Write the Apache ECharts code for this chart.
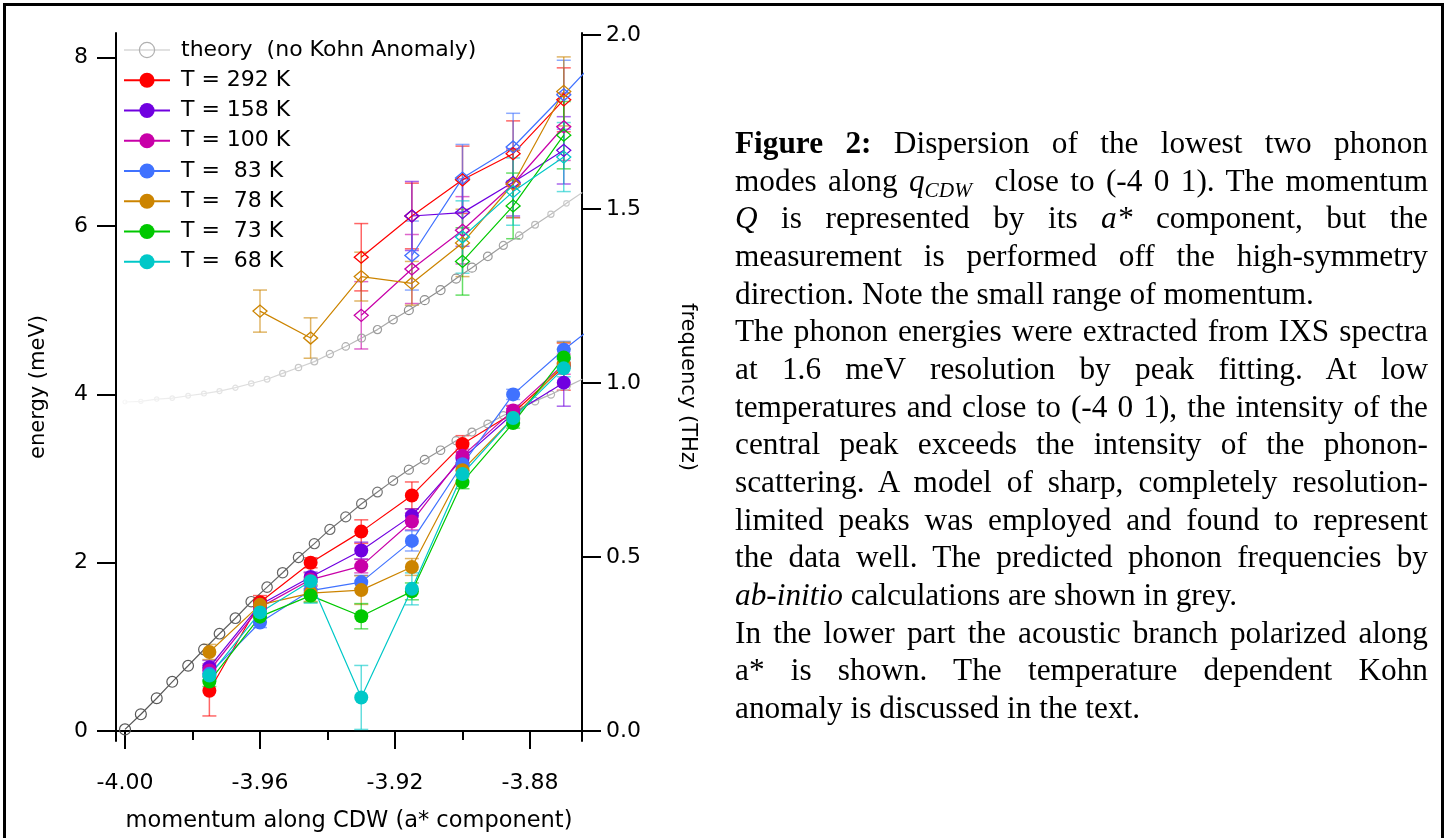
<!DOCTYPE html>
<html>
<head>
<meta charset="utf-8">
<script src="https://cdn.jsdelivr.net/npm/echarts@6/dist/echarts.min.js"></script>
<style>
html, body { margin: 0; padding: 0; background: #fff; }
#wrap { position: relative; width: 1452px; height: 838px; overflow: hidden; }
#frame { position: absolute; left: 3px; top: 3px; width: 1435px; height: 900px; border: 3px solid #000; }
#echart { position: absolute; left: 0; top: 0; width: 1452px; height: 838px; }
#caption { position: absolute; left: 735px; top: 124px; width: 693px;
  font-family: "Liberation Serif", "Times New Roman", serif; font-size: 31.3px; line-height: 37.67px; color: #000; }
#caption div { text-align: justify; text-align-last: justify; }
#caption div.last { text-align-last: left; }
#caption sub { font-size: 68%; line-height: 0; vertical-align: -0.28em; }
</style>
</head>
<body>
<div id="wrap">
  <div id="frame"></div>
  <div id="echart"></div>
  <div id="caption">
    <div><b>Figure 2:</b> Dispersion of the lowest two phonon</div>
    <div>modes along <i>q<sub>CDW</sub></i>&nbsp; close to (-4 0 1). The momentum</div>
    <div><i>Q</i> is represented by its <i>a*</i> component, but the</div>
    <div>measurement is performed off the high-symmetry</div>
    <div class="last">direction. Note the small range of momentum.</div>
    <div>The phonon energies were extracted from IXS spectra</div>
    <div>at 1.6 meV resolution by peak fitting. At low</div>
    <div>temperatures and close to (-4 0 1), the intensity of the</div>
    <div>central peak exceeds the intensity of the phonon-</div>
    <div>scattering. A model of sharp, completely resolution-</div>
    <div>limited peaks was employed and found to represent</div>
    <div>the data well. The predicted phonon frequencies by</div>
    <div class="last"><i>ab-initio</i> calculations are shown in grey.</div>
    <div>In the lower part the acoustic branch polarized along</div>
    <div>a* is shown. The temperature dependent Kohn</div>
    <div class="last">anomaly is discussed in the text.</div>
  </div>
</div>
<script>
// momentum positions of the measured points (a* component)
var xs = [-3.975, -3.96, -3.945, -3.93, -3.915, -3.90, -3.885, -3.87, -3.855];
var temps = ['T = 292 K', 'T = 158 K', 'T = 100 K', 'T =  83 K', 'T =  78 K', 'T =  73 K', 'T =  68 K'];
var theoryName = 'theory  (no Kohn Anomaly)';

// acoustic branch (filled circles), meV
var low292 = [0.48, 1.53, 2.00, 2.37, 2.80, 3.41, 3.78, 4.33, null];
var low158 = [0.76, 1.50, 1.83, 2.145, 2.56, 3.24, 3.77, 4.14, null];
var low100 = [0.72, 1.47, 1.80, 1.96, 2.49, 3.27, 3.81, 4.36, null];
var low83  = [0.68, 1.29, 1.67, 1.77, 2.26, 3.17, 4.00, 4.53, 5.0];
var low78  = [0.94, 1.50, 1.64, 1.675, 1.95, 3.10, 3.72, 4.36, null];
var low73  = [0.59, 1.36, 1.61, 1.365, 1.66, 2.96, 3.66, 4.44, null];
var low68  = [0.66, 1.41, 1.78, 0.40, 1.69, 3.055, 3.72, 4.31, null];
var lowErr292 = [0.30, 0.08, 0.06, 0.14, 0.16, 0.10, 0.08, 0.28, null];
var lowErr158 = [0.08, 0.06, 0.06, 0.10, 0.08, 0.08, 0.06, 0.28, null];
var lowErr100 = [0.08, 0.06, 0.08, 0.08, 0.10, 0.08, 0.06, 0.12, null];
var lowErr83  = [0.07, 0.06, 0.06, 0.08, 0.12, 0.08, 0.06, 0.10, null];
var lowErr78  = [0.09, 0.08, 0.10, 0.17, 0.10, 0.08, 0.06, 0.26, null];
var lowErr73  = [0.06, 0.06, 0.08, 0.15, 0.10, 0.08, 0.06, 0.10, null];
var lowErr68  = [0.06, 0.07, 0.26, 0.38, 0.19, 0.08, 0.06, 0.10, null];

// second mode (open diamonds), meV
var up292 = [null, null, null, 5.63, 6.12, 6.55, 6.86, 7.50, null];
var up158 = [null, null, null, null, 6.12, 6.16, 6.52, 6.90, null];
var up100 = [null, null, null, 4.94, 5.49, 5.95, 6.50, 7.18, null];
var up83  = [null, null, null, null, 5.65, 6.57, 6.94, 7.56, 8.2];
var up78  = [null, 4.99, 4.67, 5.40, 5.32, 5.80, 6.50, 7.60, null];
var up73  = [null, null, null, null, null, 5.58, 6.24, 7.08, null];
var up68  = [null, null, null, null, null, 5.87, 6.41, 6.82, null];
var upErr292 = [null, null, null, 0.40, 0.39, 0.40, 0.39, 0.38, null];
var upErr158 = [null, null, null, null, 0.41, 0.40, 0.40, 0.40, null];
var upErr100 = [null, null, null, 0.40, 0.41, 0.40, 0.40, 0.40, null];
var upErr83  = [null, null, null, null, 0.41, 0.40, 0.40, 0.41, null];
var upErr78  = [null, 0.25, 0.24, 0.29, 0.26, 0.40, 0.40, 0.41, null];
var upErr73  = [null, null, null, null, null, 0.40, 0.39, 0.40, null];
var upErr68  = [null, null, null, null, null, 0.43, 0.40, 0.41, null];

// ab-initio dispersion
var theoryX = [-4.0000, -3.9953, -3.9906, -3.9860, -3.9813, -3.9766, -3.9720, -3.9673, -3.9626, -3.9579,
  -3.9533, -3.9486, -3.9439, -3.9393, -3.9346, -3.9299, -3.9252, -3.9206, -3.9159, -3.9112,
  -3.9065, -3.9019, -3.8972, -3.8925, -3.8879, -3.8832, -3.8785, -3.8738, -3.8692, -3.8645];
var theoryLow = [0.02, 0.20, 0.39, 0.585, 0.776, 0.97, 1.157, 1.341, 1.537, 1.71,
  1.882, 2.063, 2.227, 2.396, 2.545, 2.702, 2.84, 2.976, 3.106, 3.224,
  3.337, 3.45, 3.553, 3.648, 3.75, 3.83, 3.92, 4.00, 4.09, 4.18];
var theoryUp = [3.91, 3.918, 3.945, 3.957, 3.984, 4.01, 4.04, 4.08, 4.13, 4.18,
  4.25, 4.32, 4.39, 4.48, 4.57, 4.67, 4.77, 4.89, 5.00, 5.12,
  5.24, 5.376, 5.506, 5.64, 5.77, 5.886, 6.015, 6.14, 6.27, 6.40];

var meVperTHz = 4.1357;
var eMin = -0.1176, eMax = 8.294;
var fontFam = '"DejaVu Sans", sans-serif';

var groups = [
  { name: temps[0], color: '#ff0000', low: low292, lowErr: lowErr292, up: up292, upErr: upErr292 },
  { name: temps[1], color: '#7000e0', low: low158, lowErr: lowErr158, up: up158, upErr: upErr158 },
  { name: temps[2], color: '#c800a8', low: low100, lowErr: lowErr100, up: up100, upErr: upErr100 },
  { name: temps[3], color: '#4072ff', low: low83,  lowErr: lowErr83,  up: up83,  upErr: upErr83 },
  { name: temps[4], color: '#cc8400', low: low78,  lowErr: lowErr78,  up: up78,  upErr: upErr78 },
  { name: temps[5], color: '#00c800', low: low73,  lowErr: lowErr73,  up: up73,  upErr: upErr73 },
  { name: temps[6], color: '#00c8c8', low: low68,  lowErr: lowErr68,  up: up68,  upErr: upErr68 }
];

// grey level / symbol size of the theory points along the momentum
var lowShade = [[-4.0, 85, 11], [-3.93, 110, 10], [-3.90, 160, 8], [-3.865, 185, 7]];
var upShade = [[-4.0, 246, 4], [-3.96, 220, 5.5], [-3.915, 140, 9], [-3.895, 150, 9], [-3.865, 215, 5]];
function ramp(stops, x) {
  for (var i = 1; i < stops.length; i++) {
    if (x <= stops[i][0]) {
      var a = stops[i - 1], b = stops[i];
      var t = Math.max(0, Math.min(1, (x - a[0]) / (b[0] - a[0])));
      return [a[1] + (b[1] - a[1]) * t, a[2] + (b[2] - a[2]) * t];
    }
  }
  var l = stops[stops.length - 1];
  return [l[1], l[2]];
}
function grey(v) { v = Math.round(v); return 'rgb(' + v + ',' + v + ',' + v + ')'; }

function theoryData(ys, stops) {
  return theoryX.map(function (x, i) {
    var s = ramp(stops, x);
    return { value: [x, ys[i]], symbolSize: s[1],
      itemStyle: { color: 'rgba(0,0,0,0)', borderColor: grey(s[0]), borderWidth: 1.2 } };
  });
}
function pts(ys) {
  var out = [];
  xs.forEach(function (x, i) { if (ys[i] != null) out.push([x, ys[i]]); });
  return out;
}
function errPts(ys, es) {
  var out = [];
  xs.forEach(function (x, i) { if (ys[i] != null && es[i] != null) out.push([x, ys[i], es[i]]); });
  return out;
}
function errSeries(data, color) {
  return {
    type: 'custom', data: data, z: 1, clip: true, silent: true,
    encode: { x: 0, y: 1 },
    renderItem: function (params, api) {
      var x = api.value(0), y = api.value(1), e = api.value(2);
      var top = api.coord([x, y + e]), bot = api.coord([x, y - e]);
      var hw = 7;
      var st = { stroke: color, lineWidth: 1.5, opacity: 0.6 };
      return { type: 'group', children: [
        { type: 'line', shape: { x1: top[0], y1: top[1], x2: bot[0], y2: bot[1] }, style: st },
        { type: 'line', shape: { x1: top[0] - hw, y1: top[1], x2: top[0] + hw, y2: top[1] }, style: st },
        { type: 'line', shape: { x1: bot[0] - hw, y1: bot[1], x2: bot[0] + hw, y2: bot[1] }, style: st }
      ] };
    }
  };
}

var series = [
  { name: theoryName, type: 'line', data: theoryData(theoryLow, lowShade), symbol: 'circle', z: 2,
    itemStyle: { color: 'rgba(0,0,0,0)', borderColor: '#aaa' },
    lineStyle: { width: 1.2, color: new echarts.graphic.LinearGradient(0, 0, 1, 0, [
      { offset: 0, color: '#555' }, { offset: 0.5, color: '#707070' },
      { offset: 0.72, color: '#a0a0a0' }, { offset: 1, color: '#bbb' }]) } },
  { name: theoryName, type: 'line', data: theoryData(theoryUp, upShade), symbol: 'circle', z: 2,
    itemStyle: { color: 'rgba(0,0,0,0)', borderColor: '#aaa' },
    lineStyle: { width: 1.2, color: new echarts.graphic.LinearGradient(0, 0, 1, 0, [
      { offset: 0, color: '#f6f6f6' }, { offset: 0.4, color: '#d0d0d0' },
      { offset: 0.68, color: '#8c8c8c' }, { offset: 0.8, color: '#9a9a9a' }, { offset: 1, color: '#d0d0d0' }]) } }
];
groups.forEach(function (g) {
  series.push(errSeries(errPts(g.low, g.lowErr), g.color));
  series.push(errSeries(errPts(g.up, g.upErr), g.color));
});
groups.forEach(function (g) {
  series.push({ name: g.name, type: 'line', data: pts(g.low), symbol: 'circle', symbolSize: 14, z: 3,
    itemStyle: { color: g.color }, lineStyle: { width: 1.2, color: g.color } });
  series.push({ name: g.name, type: 'line', data: pts(g.up), symbol: 'diamond', symbolSize: [14, 12], z: 3,
    itemStyle: { color: 'rgba(0,0,0,0)', borderColor: g.color, borderWidth: 1.3 },
    lineStyle: { width: 1.2, color: g.color } });
});

var legendData = [{ name: theoryName, itemStyle: { color: 'rgba(0,0,0,0)', borderColor: '#b0b0b0', borderWidth: 1.2 },
  lineStyle: { color: '#c4c4c4', width: 1.2 } }];
groups.forEach(function (g) { legendData.push({ name: g.name }); });

var xMin = -4.002667, xMax = -3.864593;
var axisBlack = { lineStyle: { color: '#000', width: 2 } };

var myChart = echarts.init(document.getElementById('echart'));
myChart.setOption({
  animation: false,
  backgroundColor: 'transparent',
  grid: { left: 116, top: 33, width: 466, height: 715 },
  legend: {
    data: legendData, orient: 'vertical', left: 123, top: 39, padding: 0,
    itemWidth: 46, itemHeight: 19, itemGap: 8.25, selectedMode: false,
    textStyle: { fontFamily: fontFam, fontSize: 22, lineHeight: 22, color: '#000', padding: [0, 0, 0, 6] }
  },
  xAxis: [
    { type: 'value', min: xMin, max: xMax, position: 'bottom',
      axisLine: axisBlack, splitLine: { show: false },
      axisTick: { customValues: [-4.00, -3.96, -3.92, -3.88], length: 18, lineStyle: { color: '#000', width: 2 } },
      axisLabel: { customValues: [-4.00, -3.96, -3.92, -3.88], margin: 31, color: '#000',
        fontFamily: fontFam, fontSize: 22, formatter: function (v) { return v.toFixed(2); } },
      name: 'momentum along CDW (a* component)', nameLocation: 'middle', nameGap: 69,
      nameTextStyle: { fontFamily: fontFam, fontSize: 22.5, color: '#000' } },
    { type: 'value', min: xMin, max: xMax, position: 'bottom',
      axisLine: { show: false }, splitLine: { show: false },
      axisTick: { customValues: [-4.00, -3.98, -3.96, -3.94, -3.92, -3.90, -3.88], length: 9, lineStyle: { color: '#000', width: 2 } },
      axisLabel: { show: false } }
  ],
  yAxis: [
    { type: 'value', min: eMin, max: eMax, position: 'left',
      axisLine: { show: true, lineStyle: { color: '#000', width: 2 } }, splitLine: { show: false },
      axisTick: { customValues: [0, 2, 4, 6, 8], length: 19, lineStyle: { color: '#000', width: 2 } },
      axisLabel: { customValues: [0, 2, 4, 6, 8], margin: 28, color: '#000', fontFamily: fontFam, fontSize: 22 },
      name: 'energy (meV)', nameLocation: 'middle', nameGap: 67,
      nameTextStyle: { fontFamily: fontFam, fontSize: 21, color: '#000' } },
    { type: 'value', min: eMin / meVperTHz, max: eMax / meVperTHz, position: 'right',
      axisLine: { show: true, lineStyle: { color: '#000', width: 2 } }, splitLine: { show: false },
      axisTick: { customValues: [0, 0.5, 1, 1.5, 2], length: 19, lineStyle: { color: '#000', width: 2 } },
      axisLabel: { customValues: [0, 0.5, 1, 1.5, 2], margin: 24, color: '#000', fontFamily: fontFam, fontSize: 22,
        formatter: function (v) { return v.toFixed(1); } },
      name: 'frequency (THz)', nameLocation: 'middle', nameGap: 95, nameRotate: -90,
      nameTextStyle: { fontFamily: fontFam, fontSize: 21, color: '#000' } }
  ],
  series: series
});
</script>
</body>
</html>
